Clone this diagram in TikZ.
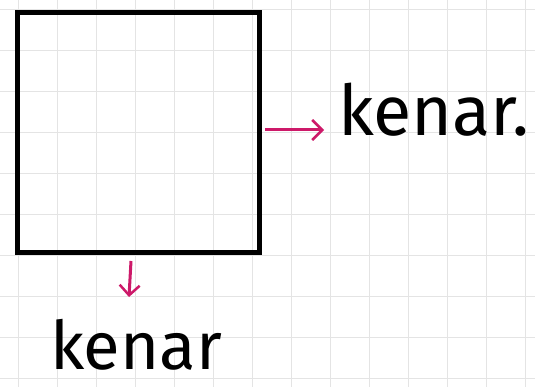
\documentclass[tikz,border=0pt]{standalone}
\usepackage{fontspec}
\setmainfont{Fira Sans}
\usetikzlibrary{arrows.meta}
\definecolor{pen}{RGB}{205,25,105}
\definecolor{gridc}{RGB}{228,228,228}
\tikzset{
  gridline/.style={gridc, line width=0.9pt},
  sidebox/.style={draw=black, line width=5pt, minimum width=242pt, minimum height=240pt, inner sep=0pt, anchor=north west},
  lbl/.style={inner sep=0pt, anchor=base west, text=black},
  pointer/.style={draw=pen, line width=3pt, -{Straight Barb[length=10pt,width=20pt,line width=2.5pt]}}
}
\begin{document}
\begin{tikzpicture}[x=1pt,y=-1pt]
\useasboundingbox (0,0) rectangle (535,387);
\fill[white] (0,0) rectangle (535,387);
% grid paper
\foreach \gx in {18,57,96,135,174,213,252,291,330,369,408,447,486,525}
  \draw[gridline] (\gx,0) -- (\gx,387);
\foreach \gy in {9,50,91,132,173,214,255,296,337,378}
  \draw[gridline] (0,\gy) -- (535,\gy);
% square
\node[sidebox] (sq) at (15,10) {};
% labels
\node[lbl, font=\fontsize{70}{70}\selectfont] (k1) at (338,136) {kenar.};
\node[lbl, font=\fontsize{67}{67}\selectfont] (k2) at (50,369) {kenar};
% arrows
\coordinate (a1s) at (265,130);
\coordinate (a1e) at (324,130);
\coordinate (a2s) at (131,261);
\coordinate (a2e) at (129,297);
\draw[pointer] (a1s) -- (a1e);
\draw[pointer] (a2s) -- (a2e);
\end{tikzpicture}
\end{document}
